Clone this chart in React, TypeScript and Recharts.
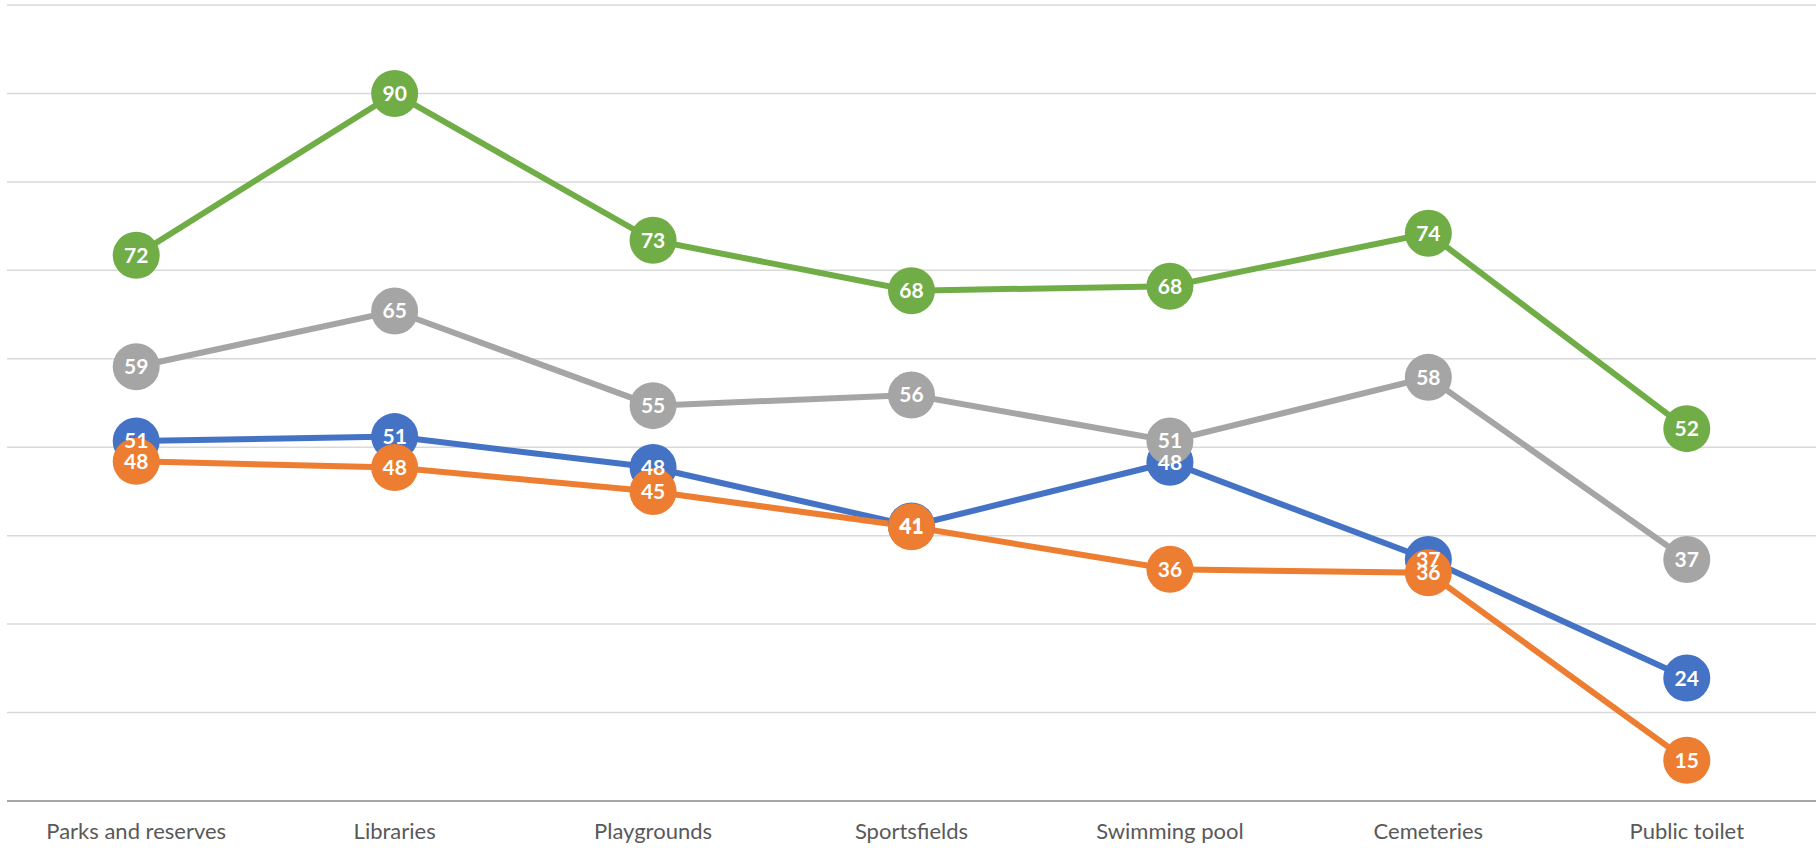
import React from "react";
import { LineChart, Line, XAxis, YAxis, CartesianGrid, LabelList } from "recharts";

const categories = [
  "Parks and reserves",
  "Libraries",
  "Playgrounds",
  "Sportsfields",
  "Swimming pool",
  "Cemeteries",
  "Public toilet",
];

const blueValues = [50.7, 51.2, 47.7, 41.1, 48.3, 37.3, 23.9];
const orangeValues = [48.4, 47.7, 45.0, 41.0, 36.2, 35.8, 14.6];
const grayValues = [59.1, 65.4, 54.7, 55.9, 50.7, 57.9, 37.3];
const greenValues = [71.7, 90.0, 73.4, 67.7, 68.2, 74.2, 52.1];

const yTicks = [10, 20, 30, 40, 50, 60, 70, 80, 90, 100];

const series = [
  { key: "blue", color: "#4472C4" },
  { key: "orange", color: "#ED7D31" },
  { key: "gray", color: "#A5A5A5" },
  { key: "green", color: "#70AD47" },
];

const data = categories.map((name, i) => ({
  name,
  blue: blueValues[i],
  orange: orangeValues[i],
  gray: grayValues[i],
  green: greenValues[i],
}));

const font = "Lato, 'Open Sans', sans-serif";

function makeDot(color: string) {
  return (props: any) => {
    const { cx, cy, index } = props;
    if (cx == null || cy == null) return <g key={index} />;
    return <circle key={index} cx={cx} cy={cy} r={23.5} fill={color} />;
  };
}

export default function App() {
  return (
    <div style={{ position: "absolute", left: 0, top: 0, width: 1820, height: 848, background: "#fff" }}>
      <LineChart
        width={1820}
        height={848}
        data={data}
        margin={{ top: 5, right: 4, bottom: 0, left: 7 }}
      >
        <CartesianGrid vertical={false} stroke="#d9d9d9" strokeWidth={1.5} />
        <XAxis
          dataKey="name"
          scale="band"
          height={47}
          axisLine={{ stroke: "#a6a6a6", strokeWidth: 2 }}
          tickLine={false}
          tick={{ fontSize: 22, fill: "#595959", fontFamily: font }}
          tickMargin={16}
          interval={0}
        />
        <YAxis hide domain={[10, 100]} ticks={yTicks} />
        {series.map((s) => (
          <Line
            key={s.key}
            dataKey={s.key}
            stroke={s.color}
            strokeWidth={6}
            dot={makeDot(s.color)}
            activeDot={false}
            isAnimationActive={false}
          />
        ))}
        {series.map((s) => (
          <Line
            key={s.key + "-labels"}
            dataKey={s.key}
            stroke="none"
            strokeWidth={0}
            dot={false}
            activeDot={false}
            legendType="none"
            isAnimationActive={false}
          >
            <LabelList
              dataKey={s.key}
              position="center"
              formatter={(v: any) => Math.round(Number(v))}
              fill="#ffffff"
              fontSize={21}
              fontWeight="bold"
              fontFamily={font}
            />
          </Line>
        ))}
      </LineChart>
    </div>
  );
}
